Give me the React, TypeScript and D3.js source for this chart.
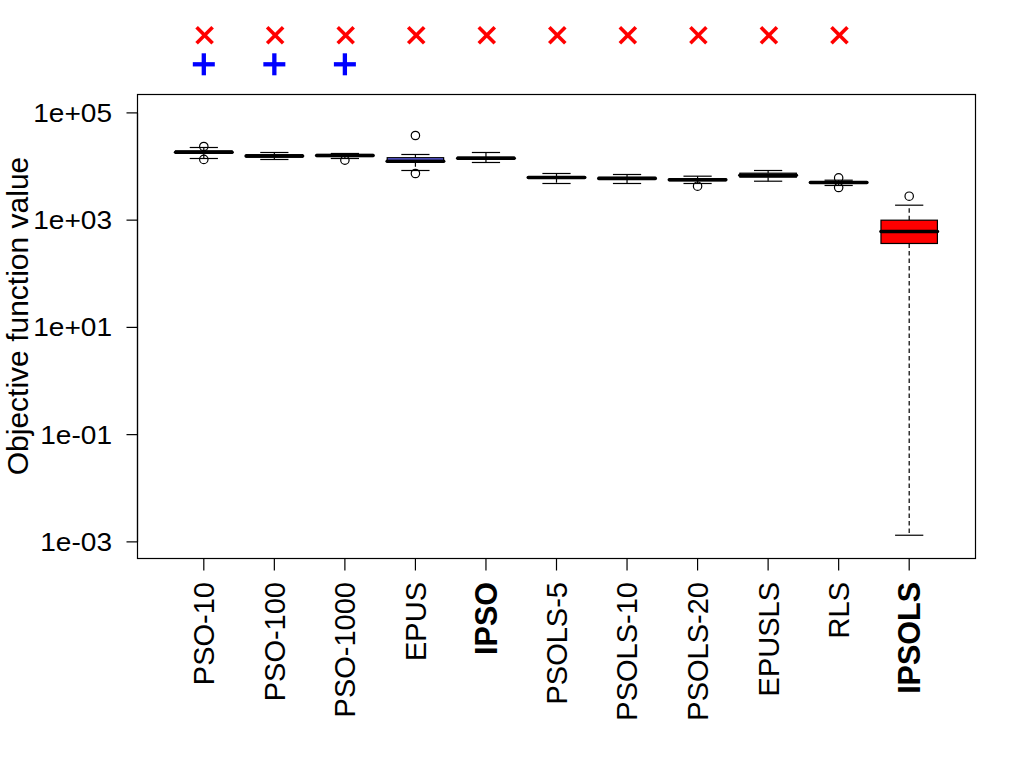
import React from "react";
import * as d3 from "d3";

// ---------- data ----------
const methods = ["PSO-10", "PSO-100", "PSO-1000", "EPUS", "IPSO", "PSOLS-5", "PSOLS-10", "PSOLS-20", "EPUSLS", "RLS", "IPSOLS"];
const whiskerLow = [14110, 13520, 14110, 8430, 11890, 4824, 4824, 4824, 5323, 4429, 0.00133];
const quartile1 = [17570, 14930, 15380, 12040, 13700, 6059, 5803, 5441, 6323, 4887, 367];
const medians = [18500, 15720, 16060, 12570, 14300, 6243, 6007, 5680, 6891, 5036, 614];
const quartile3 = [19560, 16620, 16760, 14610, 14930, 6462, 6243, 5929, 7508, 5212, 998];
const whiskerHigh = [22630, 18260, 17500, 16760, 18260, 7413, 7100, 6602, 8430, 5559, 1900];
const outliers = [[23630, 13580], [], [13120], [37890, 7413], [], [], [], [4297], [], [6137, 4063], [2797]];
const yTickValues = [1e-3, 1e-1, 1e1, 1e3, 1e5];
const yTickLabels = ["1e-03", "1e-01", "1e+01", "1e+03", "1e+05"];
const boldMethods = ["IPSO", "IPSOLS"];
const crossMethods = ["PSO-10", "PSO-100", "PSO-1000", "EPUS", "IPSO", "PSOLS-5", "PSOLS-10", "PSOLS-20", "EPUSLS", "RLS"];
const plusMethods = ["PSO-10", "PSO-100", "PSO-1000"];
const highlightFill: Record<string, string> = { EPUS: "#6b6bff", IPSOLS: "#ff0000" };
const yLabel = "Objective function value";

// ---------- layout ----------
const W = 1024, H = 768;
const left = 137.5, right = 975.5, top = 94.5, bottom = 558.5;
const font = "'Liberation Sans', Arial, Helvetica, sans-serif";

export default function App() {
  const x = d3.scaleLinear().domain([0.06, 11.94]).range([left, right]);
  const y = d3.scaleLog().domain([Math.pow(10, -3.31), Math.pow(10, 5.343)]).range([bottom, top]);
  const step = x(2) - x(1);
  const boxW = step * 0.8;
  const capW = boxW * 0.5;
  const lw = 1.2;

  return (
    <svg width={W} height={H} style={{ position: "absolute", left: 0, top: 0, background: "#fff" }} fontFamily={font}>
      <rect x={0} y={0} width={W} height={H} fill="#fff" />
      {/* boxes */}
      {methods.map((m, i) => {
        const cx = x(i + 1);
        const fill = highlightFill[m] || "#fff";
        return (
          <g key={m}>
            <line x1={cx} x2={cx} y1={y(quartile3[i])} y2={y(whiskerHigh[i])} stroke="#000" strokeWidth={lw} strokeDasharray="4.5 3" />
            <line x1={cx} x2={cx} y1={y(quartile1[i])} y2={y(whiskerLow[i])} stroke="#000" strokeWidth={lw} strokeDasharray="4.5 3" />
            <line x1={cx - capW / 2} x2={cx + capW / 2} y1={y(whiskerHigh[i])} y2={y(whiskerHigh[i])} stroke="#000" strokeWidth={lw} />
            <line x1={cx - capW / 2} x2={cx + capW / 2} y1={y(whiskerLow[i])} y2={y(whiskerLow[i])} stroke="#000" strokeWidth={lw} />
            <rect x={cx - boxW / 2} width={boxW} y={y(quartile3[i])} height={y(quartile1[i]) - y(quartile3[i])} fill={fill} stroke="#000" strokeWidth={lw} />
            <line x1={cx - boxW / 2} x2={cx + boxW / 2} y1={y(medians[i])} y2={y(medians[i])} stroke="#000" strokeWidth={3.6} strokeLinecap="round" />
            {outliers[i].map((v, k) => (
              <circle key={k} cx={cx} cy={y(v)} r={4.2} fill="none" stroke="#000" strokeWidth={lw} />
            ))}
          </g>
        );
      })}
      {/* frame */}
      <rect x={left} y={top} width={right - left} height={bottom - top} fill="none" stroke="#000" strokeWidth={lw} />
      {/* y axis */}
      <line x1={left} x2={left} y1={y(yTickValues[0])} y2={y(yTickValues[yTickValues.length - 1])} stroke="#000" strokeWidth={lw} />
      {yTickValues.map((v, i) => (
        <g key={v}>
          <line x1={left} x2={left - 11} y1={y(v)} y2={y(v)} stroke="#000" strokeWidth={lw} />
          <text transform={`translate(112,${y(v) + 9}) scale(1.1,1)`} textAnchor="end" fontSize={25.5} fill="#000">
            {yTickLabels[i]}
          </text>
        </g>
      ))}
      <text transform={`translate(28,316) rotate(-90)`} textAnchor="middle" fontSize={30} fill="#000">
        {yLabel}
      </text>
      {/* x axis */}
      {methods.map((m, i) => {
        const cx = x(i + 1);
        const bold = boldMethods.includes(m);
        const fs = bold ? 30.5 : 29;
        return (
          <g key={m}>
            <line x1={cx} x2={cx} y1={bottom} y2={bottom + 12} stroke="#000" strokeWidth={lw} />
            <text transform={`translate(${cx + fs * 0.36},582) rotate(-90)`} textAnchor="end" fontSize={fs} fontWeight={bold ? "bold" : "normal"} fill="#000">
              {m}
            </text>
          </g>
        );
      })}
      {/* significance markers */}
      {crossMethods.map((m) => {
        const cx = x(methods.indexOf(m) + 1) + 0.8;
        const cy = 35.3, d = 8;
        return (
          <g key={"c" + m} stroke="#ff0000" strokeWidth={3.6}>
            <line x1={cx - d} y1={cy - d} x2={cx + d} y2={cy + d} />
            <line x1={cx - d} y1={cy + d} x2={cx + d} y2={cy - d} />
          </g>
        );
      })}
      {plusMethods.map((m) => {
        const cx = x(methods.indexOf(m) + 1);
        const cy = 64.3, d = 11;
        return (
          <g key={"p" + m} stroke="#0000ff" strokeWidth={4.3}>
            <line x1={cx - d} y1={cy} x2={cx + d} y2={cy} />
            <line x1={cx} y1={cy - d} x2={cx} y2={cy + d} />
          </g>
        );
      })}
    </svg>
  );
}
